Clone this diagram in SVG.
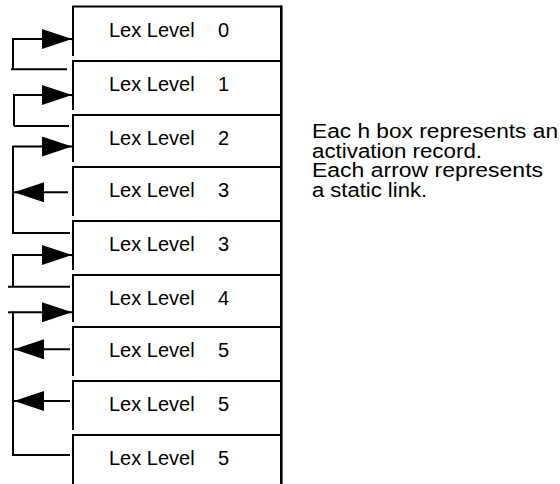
<svg xmlns="http://www.w3.org/2000/svg" width="560" height="484" viewBox="0 0 560 484">
<style>
.edge{stroke:#000;stroke-width:2;fill:none}
.redge{stroke:#000;stroke-width:2.6;fill:none}
.lbl{font-family:"Liberation Sans",Arial,sans-serif;font-size:20px;fill:#000}
.note{font-family:"Liberation Sans",Arial,sans-serif;font-size:20px;fill:#000}
.link{stroke:#000;stroke-width:2;fill:none}
</style>
<defs>
<marker id="ah" viewBox="0 0 30 20" refX="30" refY="10" markerWidth="30" markerHeight="20" markerUnits="userSpaceOnUse" orient="auto">
<path d="M0,0 L30,10 L0,20 Z" fill="#000"/>
</marker>
</defs>
<g id="box0">
<path class="edge" d="M72,6.5H282M73,5.5V56"/><path class="redge" d="M281.3,5.5V61"/>
<text class="lbl" x="109" y="36.5" xml:space="preserve">Lex Level  <tspan x="218">0</tspan></text>
</g>
<g id="box1">
<path class="edge" d="M72,61H282M73,60V110"/><path class="redge" d="M281.3,61V115"/>
<text class="lbl" x="109" y="90.7" xml:space="preserve">Lex Level  <tspan x="218">1</tspan></text>
</g>
<g id="box2">
<path class="edge" d="M72,115H282M73,114V162"/><path class="redge" d="M281.3,115V167"/>
<text class="lbl" x="109" y="144.5" xml:space="preserve">Lex Level  <tspan x="218">2</tspan></text>
</g>
<g id="box3">
<path class="edge" d="M72,167H282M73,166V216"/><path class="redge" d="M281.3,167V221"/>
<text class="lbl" x="109" y="197" xml:space="preserve">Lex Level  <tspan x="218">3</tspan></text>
</g>
<g id="box4">
<path class="edge" d="M72,221H282M73,220V270"/><path class="redge" d="M281.3,221V275"/>
<text class="lbl" x="109" y="251" xml:space="preserve">Lex Level  <tspan x="218">3</tspan></text>
</g>
<g id="box5">
<path class="edge" d="M72,275H282M73,274V322"/><path class="redge" d="M281.3,275V327"/>
<text class="lbl" x="109" y="304.5" xml:space="preserve">Lex Level  <tspan x="218">4</tspan></text>
</g>
<g id="box6">
<path class="edge" d="M72,327H282M73,326V376"/><path class="redge" d="M281.3,327V381"/>
<text class="lbl" x="109" y="357" xml:space="preserve">Lex Level  <tspan x="218">5</tspan></text>
</g>
<g id="box7">
<path class="edge" d="M72,381H282M73,380V430"/><path class="redge" d="M281.3,381V435"/>
<text class="lbl" x="109" y="411" xml:space="preserve">Lex Level  <tspan x="218">5</tspan></text>
</g>
<g id="box8">
<path class="edge" d="M72,435H282M73,434V484"/><path class="redge" d="M281.3,435V484"/>
<text class="lbl" x="109" y="465" xml:space="preserve">Lex Level  <tspan x="218">5</tspan></text>
</g>
<g id="connectors">
<path class="link" d="M11,69.3H67M13,69.3V39H72" marker-end="url(#ah)"/>
<path class="link" d="M14,126H69M14,126V95H72" marker-end="url(#ah)"/>
<path class="link" d="M12,233H70M13,233V146.5H72" marker-end="url(#ah)"/>
<path class="link" d="M68,192.3H14" marker-end="url(#ah)"/>
<path class="link" d="M8,286.7H70M13,286.7V255H72" marker-end="url(#ah)"/>
<path class="link" d="M12,455H70M13,455V312.3H72" marker-end="url(#ah)"/>
<path class="link" d="M8,312.3H13"/>
<path class="link" d="M70,349.3H14" marker-end="url(#ah)"/>
<path class="link" d="M70,401H14" marker-end="url(#ah)"/>
</g>
<g id="caption">
<text class="note" x="312" y="138" textLength="246" lengthAdjust="spacingAndGlyphs">Eac h box represents an</text>
<text class="note" x="312" y="157.7" textLength="170" lengthAdjust="spacingAndGlyphs">activation record.</text>
<text class="note" x="312" y="177.3" textLength="231" lengthAdjust="spacingAndGlyphs">Each arrow represents</text>
<text class="note" x="312" y="197" textLength="115" lengthAdjust="spacingAndGlyphs">a static link.</text>
</g>
</svg>
